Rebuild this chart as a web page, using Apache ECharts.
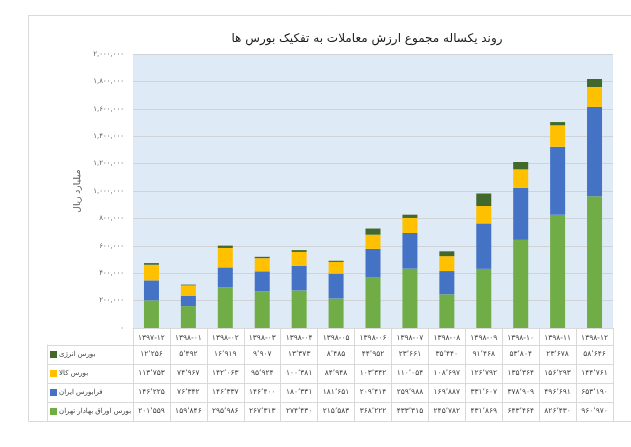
<!DOCTYPE html>
<html>
<head>
<meta charset="utf-8">
<title>روند یکساله مجموع ارزش معاملات</title>
<script src="https://cdn.jsdelivr.net/npm/echarts@6/dist/echarts.min.js"></script>
<style>
  html, body { margin: 0; padding: 0; background: #fff; }
  #box { width: 631px; height: 447px; }
</style>
</head>
<body>
<div id="box"></div>
<script>
// داده ها
var categories = ['1397-12', '1398-01', '1398-02', '1398-03', '1398-04', '1398-05', '1398-06',
                  '1398-07', '1398-08', '1398-09', '1398-10', '1398-11', '1398-12'];
var tehran = [201559, 159846, 295986, 267313, 274430, 215583, 368222, 433315, 245782, 431869, 643464, 826430, 960970];
var farabourse = [146225, 76342, 146337, 146400, 180331, 181651, 209414, 259988, 169887, 331607, 378909, 496691, 653190];
var kala = [113753, 74967, 142063, 95924, 100381, 84948, 103342, 110054, 108697, 126792, 135364, 156293, 144761];
var energy = [12256, 5492, 16919, 9907, 13373, 8485, 44952, 23661, 35440, 91468, 53804, 23678, 58646];
var seriesNames = ['بورس انرژی', 'بورس کالا', 'فرابورس ایران', 'بورس اوراق بهادار تهران'];
var seriesColors = ['#43682b', '#ffc000', '#4472c4', '#70ad47'];
var yMin = 0, yMax = 2000000, yStep = 200000;

var fa = '۰۱۲۳۴۵۶۷۸۹';
function toFa(s) {
    return String(s).replace(/[0-9]/g, function (d) { return fa[+d]; });
}
function fmt(n, sep) {
    return toFa(String(n).replace(/\B(?=(\d{3})+(?!\d))/g, sep));
}

var rows = [energy, kala, farabourse, tehran];   // ترتیب سطرهای جدول
var cells = [];
rows.forEach(function (arr, r) {
    arr.forEach(function (v, c) { cells.push([c, r, v]); });
});

var font = 'DejaVu Sans';
var lineColor = '#d9d9d9';

var myChart = echarts.init(document.getElementById('box'));
var rich = {};
seriesColors.forEach(function (c, i) {
    rich['b' + i] = { width: 7, height: 7, backgroundColor: c };
});
rich.t = { fontSize: 7, color: '#404040', fontFamily: font, padding: [0, 0, 0, 2] };

var option = {
    animation: false,
    textStyle: { fontFamily: font },
    title: {
        text: 'روند یکساله مجموع ارزش معاملات به تفکیک بورس ها',
        left: 362, top: 28, textAlign: 'center',
        textStyle: { fontSize: 12, fontWeight: 'normal', color: '#1a1a1a', fontFamily: font }
    },
    graphic: [{
        type: 'rect', silent: true, z: -10,
        shape: { x: 28.5, y: 15.5, width: 640, height: 406 },
        style: { fill: 'none', stroke: '#d9d9d9', lineWidth: 1 }
    }],
    grid: [
        { left: 133, right: 18, top: 54, height: 274, backgroundColor: '#deeaf6', show: true, borderWidth: 0 },
        { left: 133, right: 18, top: 345, height: 76 }
    ],
    xAxis: [{
        gridIndex: 0, type: 'category', data: categories.map(toFa),
        axisLine: { lineStyle: { color: lineColor } },
        axisTick: { show: true, interval: 0, length: 17, lineStyle: { color: lineColor } },
        axisLabel: { interval: 0, fontSize: 7.5, color: '#404040', margin: 6 }
    }, {
        gridIndex: 1, type: 'category', data: categories, position: 'top',
        axisLine: { show: true, lineStyle: { color: lineColor } },
        axisTick: { show: false }, axisLabel: { show: false },
        splitLine: { show: true, interval: 0, lineStyle: { color: lineColor } }
    }],
    yAxis: [{
        gridIndex: 0, type: 'value', min: yMin, max: yMax, interval: yStep,
        name: 'میلیارد ریال', nameLocation: 'middle', nameGap: 48, nameRotate: 90,
        nameTextStyle: { fontSize: 9, color: '#595959' },
        axisLine: { show: false }, axisTick: { show: false },
        axisLabel: { fontSize: 7, color: '#595959', margin: 9, formatter: function (v) { return fmt(v, ','); } },
        splitLine: { lineStyle: { color: '#cfd3d8' } }
    }, {
        gridIndex: 1, type: 'category', data: seriesNames, inverse: true,
        axisLine: { show: true, lineStyle: { color: lineColor } },
        axisTick: { show: true, interval: 0, length: 86, lineStyle: { color: lineColor } },
        axisLabel: {
            interval: 0, margin: 83, align: 'left',
            formatter: function (v, i) { return '{b' + i + '|}{t|' + v + '}'; },
            rich: rich
        },
        splitLine: { show: true, interval: 0, lineStyle: { color: lineColor } }
    }, {
        gridIndex: 1, type: 'value', position: 'left', offset: 86,
        axisLine: { show: true, lineStyle: { color: lineColor } },
        axisTick: { show: false }, axisLabel: { show: false }, splitLine: { show: false }
    }],
    series: [
        { name: seriesNames[3], type: 'bar', stack: 'all', data: tehran, barWidth: 15, itemStyle: { color: seriesColors[3] } },
        { name: seriesNames[2], type: 'bar', stack: 'all', data: farabourse, itemStyle: { color: seriesColors[2] } },
        { name: seriesNames[1], type: 'bar', stack: 'all', data: kala, itemStyle: { color: seriesColors[1] } },
        { name: seriesNames[0], type: 'bar', stack: 'all', data: energy, itemStyle: { color: seriesColors[0] } },
        {
            type: 'custom', xAxisIndex: 1, yAxisIndex: 1, data: cells,
            renderItem: function (params, api) {
                var p = api.coord([api.value(0), api.value(1)]);
                return {
                    type: 'text', x: p[0], y: p[1],
                    style: {
                        text: fmt(api.value(2), '٬'), fontSize: 7.5, fontFamily: font,
                        fill: '#404040', align: 'center', verticalAlign: 'middle'
                    }
                };
            }
        }
    ]
};
myChart.setOption(option);
</script>
</body>
</html>
